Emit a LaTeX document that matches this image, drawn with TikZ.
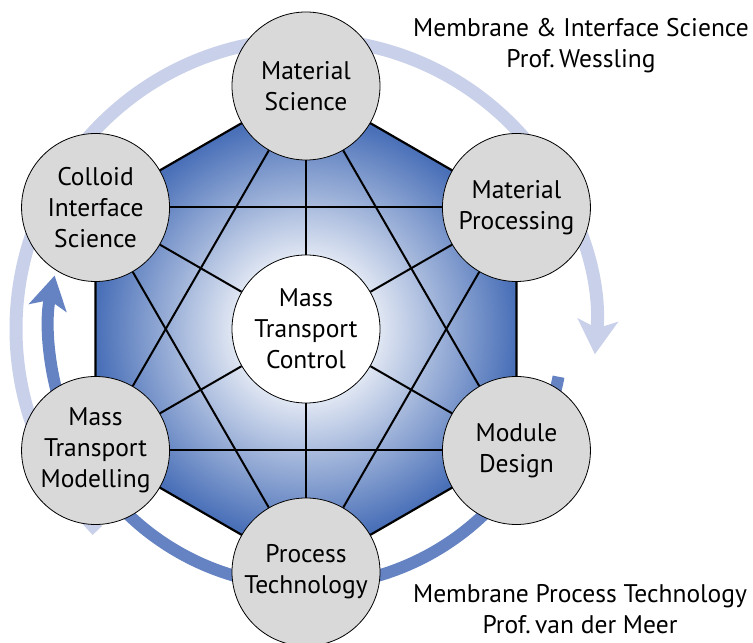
\documentclass[tikz,border=0pt]{standalone}
\usepackage{fontspec}
\setmainfont{PT Sans}
\usetikzlibrary{arrows.meta,calc}
\definecolor{hexblue}{RGB}{74,112,184}
\definecolor{darkarc}{RGB}{101,131,195}
\definecolor{lightarc}{RGB}{201,208,233}
\definecolor{nodegray}{RGB}{217,217,217}
\pgfdeclareradialshading{hexshade}{\pgfpoint{0bp}{0bp}}{color(0bp)=(white); color(5bp)=(white!97!hexblue); color(21bp)=(hexblue); color(25bp)=(hexblue!95!black); color(50bp)=(hexblue!95!black)}
\begin{document}
\begin{tikzpicture}[x=1pt,y=1pt,
  topic/.style={circle, draw=black, line width=0.8pt, fill=nodegray, minimum size=148pt, inner sep=0pt, align=center, font=\fontsize{25.5}{31}\selectfont},
  core/.style={topic, fill=white},
  link/.style={line width=2pt, black},
  hexline/.style={line width=2.2pt, black, line join=miter},
  caption/.style={align=center, inner sep=0pt, font=\fontsize{25.5}{31}\selectfont},
  lightflow/.style={lightarc, line width=13pt, -{Stealth[length=34pt, width=40pt, inset=8pt]}},
  darkflow/.style={darkarc, line width=12pt, -{Stealth[length=33pt, width=38pt, inset=8pt]}}
]
\useasboundingbox (0,0) rectangle (753,643);
\coordinate (C) at (306,314);
\coordinate (pMS) at ($(C)+(90:243)$);
\coordinate (pMP) at ($(C)+(30:243)$);
\coordinate (pMD) at ($(C)+(-30:243)$);
\coordinate (pPT) at ($(C)+(-90:243)$);
\coordinate (pMTM) at ($(C)+(210:243)$);
\coordinate (pCIS) at ($(C)+(150:243)$);
% flow arcs
\coordinate (lstart) at ($(C)+(224:290)$);
\coordinate (dstart) at ($(C)+(-10.7:257)$);
\draw[lightflow] (lstart) arc[start angle=224, end angle=-5, radius=290];
\draw[darkflow] (dstart) arc[start angle=-10.7, end angle=-192, radius=257];
% hexagon
\begin{scope}
\clip (pMS) -- (pMP) -- (pMD) -- (pPT) -- (pMTM) -- (pCIS) -- cycle;
\shade[shading=hexshade] (C) circle[radius=250];
\end{scope}
\draw[hexline] (pMS) -- (pMP) -- (pMD) -- (pPT) -- (pMTM) -- (pCIS) -- cycle;
% nodes
\node[core] (core) at (C) {Mass\\Transport\\Control};
\node[topic] (ms) at (pMS) {Material\\Science};
\node[topic] (mp) at (pMP) {Material\\Processing};
\node[topic] (md) at (pMD) {Module\\Design};
\node[topic] (pt) at (pPT) {Process\\Technology};
\node[topic] (mtm) at (pMTM) {Mass\\Transport\\Modelling};
\node[topic] (cis) at (pCIS) {Colloid\\Interface\\Science};
% links
\foreach \n in {ms,mp,md,pt,mtm,cis} \draw[link] (core) -- (\n);
\draw[link] (ms) -- (mtm);
\draw[link] (ms) -- (md);
\draw[link] (mtm) -- (md);
\draw[link] (pt) -- (cis);
\draw[link] (pt) -- (mp);
\draw[link] (cis) -- (mp);
% captions
\node[caption] (cap1) at (581,597.5) {Membrane \& Interface Science\\Prof.\,Wessling};
\node[caption] (cap2) at (580,34) {Membrane Process Technology\\Prof.\,van der Meer};
\end{tikzpicture}
\end{document}
